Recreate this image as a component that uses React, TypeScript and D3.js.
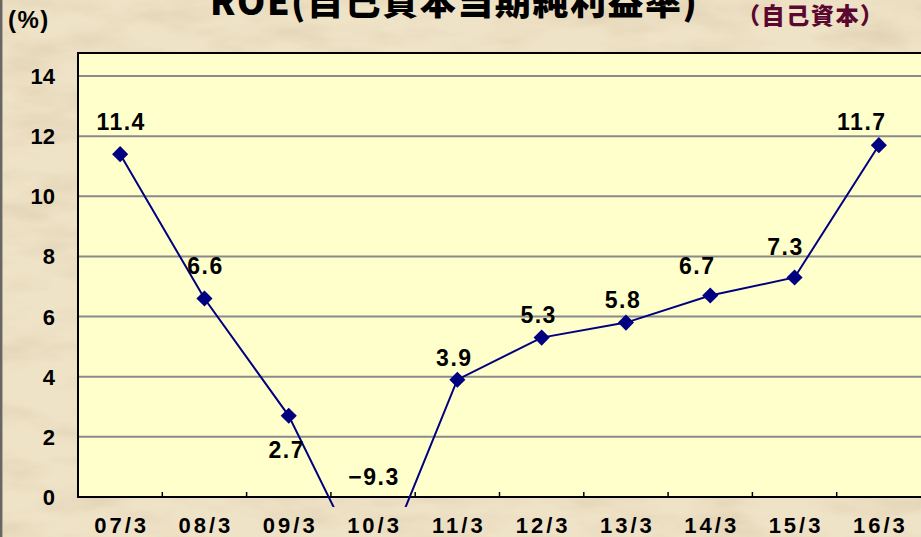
import { useEffect, useRef } from 'react';
import * as d3 from 'd3';

// chart data
const categories = ['07/3', '08/3', '09/3', '10/3', '11/3', '12/3', '13/3', '14/3', '15/3', '16/3'];
const roeValues = [11.4, 6.6, 2.7, -9.3, 3.9, 5.3, 5.8, 6.7, 7.3, 11.7];
const yTicks = [0, 2, 4, 6, 8, 10, 12, 14];
// the original draws values under the axis on a broken scale, bottoming out here
const brokenFloor = -3;

// where each value label sits relative to its marker (dx, dy of baseline)
const labelOffsets: [number, number][] = [
  [0, -24], [0, -25], [-3, 42], [0, 0], [-4, -14],
  [-4, -15], [-4, -15], [-14, -22], [-10, -22], [-18, -15],
];

const WIDTH = 921;
const HEIGHT = 537;
const plot = { left: 78, top: 53, right: 921, bottom: 497 };
const FONT = "'Liberation Sans', Arial, sans-serif";

const App = () => {
  const svgRef = useRef<SVGSVGElement>(null);

  useEffect(() => {
    if (!svgRef.current) return;
    const svg = d3.select(svgRef.current);
    svg.selectAll('*').remove();

    const x = d3.scaleBand<string>().domain(categories).range([plot.left, plot.right]).padding(0);
    const y = d3.scaleLinear().domain([0, 14]).range([plot.bottom, 76]);

    const defs = svg.append('defs');
    const paper = defs
      .append('filter')
      .attr('id', 'paper')
      .attr('x', 0)
      .attr('y', 0)
      .attr('width', '100%')
      .attr('height', '100%');
    paper
      .append('feTurbulence')
      .attr('type', 'fractalNoise')
      .attr('baseFrequency', '0.012 0.035')
      .attr('numOctaves', 4)
      .attr('seed', 7);
    paper
      .append('feColorMatrix')
      .attr('type', 'matrix')
      .attr('values', '0 0 0 0 0.72  0 0 0 0 0.60  0 0 0 0 0.42  1.4 0 0 0 -0.58');

    defs
      .append('clipPath')
      .attr('id', 'lineClip')
      .append('rect')
      .attr('x', plot.left)
      .attr('y', plot.top)
      .attr('width', plot.right - plot.left)
      .attr('height', 507 - plot.top);

    // parchment background
    svg.append('rect').attr('width', WIDTH).attr('height', HEIGHT).attr('fill', '#efe3c7');
    svg.append('rect').attr('width', WIDTH).attr('height', HEIGHT).attr('fill', '#fff').attr('filter', 'url(#paper)');
    svg.append('rect').attr('x', 0).attr('width', 2).attr('height', HEIGHT).attr('fill', '#666');
    svg.append('rect').attr('x', 2).attr('width', 1).attr('height', HEIGHT).attr('fill', '#b5ab93');

    // plot area
    svg
      .append('rect')
      .attr('x', plot.left)
      .attr('y', plot.top)
      .attr('width', plot.right - plot.left)
      .attr('height', plot.bottom - plot.top)
      .attr('fill', '#ffffcc');

    svg
      .append('g')
      .selectAll('line')
      .data(yTicks.filter((t) => t > 0))
      .join('line')
      .attr('x1', plot.left)
      .attr('x2', plot.right)
      .attr('y1', (d) => y(d))
      .attr('y2', (d) => y(d))
      .attr('stroke', '#8a8a8a')
      .attr('stroke-width', 2);

    // frame
    svg.append('line').attr('x1', plot.left - 1).attr('x2', plot.right).attr('y1', plot.top).attr('y2', plot.top)
      .attr('stroke', '#000').attr('stroke-width', 2);
    svg.append('line').attr('x1', plot.left).attr('x2', plot.left).attr('y1', plot.top).attr('y2', plot.bottom + 1)
      .attr('stroke', '#000').attr('stroke-width', 2);
    svg.append('line').attr('x1', plot.left - 1).attr('x2', plot.right).attr('y1', plot.bottom).attr('y2', plot.bottom)
      .attr('stroke', '#000').attr('stroke-width', 2);

    // x ticks between categories
    svg
      .append('g')
      .selectAll('line')
      .data(categories.slice(1))
      .join('line')
      .attr('x1', (d) => x(d) ?? 0)
      .attr('x2', (d) => x(d) ?? 0)
      .attr('y1', plot.bottom)
      .attr('y2', plot.bottom - 5)
      .attr('stroke', '#000')
      .attr('stroke-width', 1.5);

    // axis labels
    svg
      .append('g')
      .selectAll('text')
      .data(yTicks)
      .join('text')
      .attr('x', 55)
      .attr('y', (d) => y(d) + 8)
      .attr('text-anchor', 'end')
      .attr('font-family', FONT)
      .attr('font-weight', 'bold')
      .attr('font-size', 22)
      .attr('fill', '#000')
      .text((d) => d);

    svg
      .append('g')
      .selectAll('text')
      .data(categories)
      .join('text')
      .attr('x', (d) => (x(d) ?? 0) + x.bandwidth() / 2 + 1.5)
      .attr('y', 533)
      .attr('text-anchor', 'middle')
      .attr('font-family', FONT)
      .attr('font-weight', 'bold')
      .attr('font-size', 22)
      .attr('letter-spacing', 3)
      .attr('fill', '#000')
      .text((d) => d);

    // series
    const pts = categories.map((c, i) => ({
      cx: (x(c) ?? 0) + x.bandwidth() / 2,
      cy: y(Math.max(roeValues[i], brokenFloor)),
      v: roeValues[i],
      off: labelOffsets[i],
    }));

    const line = d3
      .line<(typeof pts)[number]>()
      .x((d) => d.cx)
      .y((d) => d.cy);

    const series = svg.append('g').attr('clip-path', 'url(#lineClip)');
    series
      .append('path')
      .datum(pts)
      .attr('d', line)
      .attr('fill', 'none')
      .attr('stroke', '#000080')
      .attr('stroke-width', 2);

    const diamond = d3.symbol(d3.symbolSquare, 130);
    series
      .selectAll('path.marker')
      .data(pts.filter((d) => d.v >= 0))
      .join('path')
      .attr('class', 'marker')
      .attr('d', diamond)
      .attr('transform', (d) => `translate(${d.cx},${d.cy}) rotate(45)`)
      .attr('fill', '#000080');

    svg
      .append('g')
      .selectAll('text')
      .data(pts)
      .join('text')
      .attr('x', (d) => d.cx + d.off[0] + 1)
      .attr('y', (d) => (d.v < 0 ? plot.bottom - 12 : d.cy + d.off[1]))
      .attr('text-anchor', 'middle')
      .attr('font-family', FONT)
      .attr('font-weight', 'bold')
      .attr('font-size', 23)
      .attr('letter-spacing', 1.5)
      .attr('fill', '#000')
      .text((d) => (d.v < 0 ? `−${Math.abs(d.v)}` : d.v.toFixed(1)));

    // titles
    svg
      .append('text')
      .attr('x', 210)
      .attr('y', 15)
      .attr('font-family', "'Noto Sans CJK JP', sans-serif")
      .attr('font-weight', 900)
      .attr('font-size', 36)
      .attr('textLength', 487)
      .attr('lengthAdjust', 'spacing')
      .attr('fill', '#000')
      .text('ROE(自己資本当期純利益率)');

    svg
      .append('text')
      .attr('x', 737)
      .attr('y', 24)
      .attr('font-family', "'Noto Sans CJK JP', sans-serif")
      .attr('font-weight', 900)
      .attr('font-size', 23)
      .attr('textLength', 146)
      .attr('lengthAdjust', 'spacing')
      .attr('fill', '#5a0830')
      .text('（自己資本）');

    svg
      .append('text')
      .attr('x', 8)
      .attr('y', 28)
      .attr('font-family', FONT)
      .attr('font-weight', 'bold')
      .attr('font-size', 24)
      .attr('letter-spacing', 1.5)
      .attr('fill', '#000')
      .text('(%)');
  }, []);

  return (
    <svg
      ref={svgRef}
      width={WIDTH}
      height={HEIGHT}
      style={{ position: 'fixed', left: 0, top: 0, display: 'block' }}
    />
  );
};

export default App;
